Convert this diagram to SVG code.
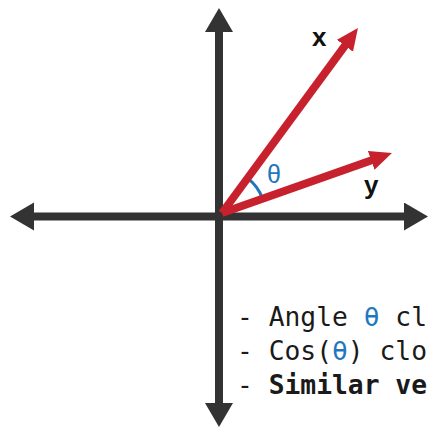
<svg xmlns="http://www.w3.org/2000/svg" width="431" height="428" viewBox="0 0 431 428">
  <style>
    .axis { stroke: #333333; stroke-width: 8; fill: none; }
    .vec { stroke: #c8212e; stroke-width: 8; fill: none; }
    .arc { stroke: #1f78bd; stroke-width: 3; fill: none; }
    .lbl { font-family: "Liberation Sans", Arial, sans-serif; font-weight: bold; font-size: 26px; fill: #111111; }
    .theta { font-family: "Liberation Sans", Arial, sans-serif; font-size: 25px; fill: #1f78bd; }
    .txt { font-family: "DejaVu Sans Mono", "Liberation Mono", monospace; font-size: 26.3px; fill: #1a1a1a; }
    .blue { fill: #1f78bd; }
  </style>
  <defs>
    <marker id="axisHead" markerUnits="userSpaceOnUse" markerWidth="26" markerHeight="30" refX="2" refY="14" orient="auto-start-reverse">
      <path d="M0,0 L24,14 L0,28 z" fill="#333333"/>
    </marker>
    <marker id="vecHead" markerUnits="userSpaceOnUse" markerWidth="24" markerHeight="22" refX="2" refY="10" orient="auto">
      <path d="M0,0 L22,10 L0,20 z" fill="#c8212e"/>
    </marker>
  </defs>
  <rect x="0" y="0" width="431" height="428" fill="#ffffff"/>
  <g id="connectors">
    <line id="y-axis" class="axis" x1="219" y1="30" x2="219" y2="405" marker-start="url(#axisHead)" marker-end="url(#axisHead)"/>
    <line id="x-axis" class="axis" x1="32" y1="216.5" x2="406" y2="216.5" marker-start="url(#axisHead)" marker-end="url(#axisHead)"/>
    <path id="angle-arc" class="arc" d="M247.5,178.3 A43,43 0 0,1 262.5,198.7"/>
    <line id="vec-x" class="vec" x1="222" y1="213" x2="346.1" y2="44.1" marker-end="url(#vecHead)"/>
    <line id="vec-y" class="vec" x1="222" y1="213" x2="373.1" y2="159.7" marker-end="url(#vecHead)"/>
  </g>
  <g id="label-x"><text class="lbl" x="312" y="46">x</text></g>
  <g id="label-y"><text class="lbl" x="364" y="194">y</text></g>
  <g id="label-theta"><text class="theta" x="267" y="183">θ</text></g>
  <g id="notes">
    <text class="txt" x="237" y="326">- Angle <tspan class="blue">θ</tspan> cl</text>
    <text class="txt" x="237" y="360">- Cos(<tspan class="blue">θ</tspan>) clo</text>
    <text class="txt" x="237" y="394">- <tspan font-weight="bold">Similar ve</tspan></text>
  </g>
</svg>
